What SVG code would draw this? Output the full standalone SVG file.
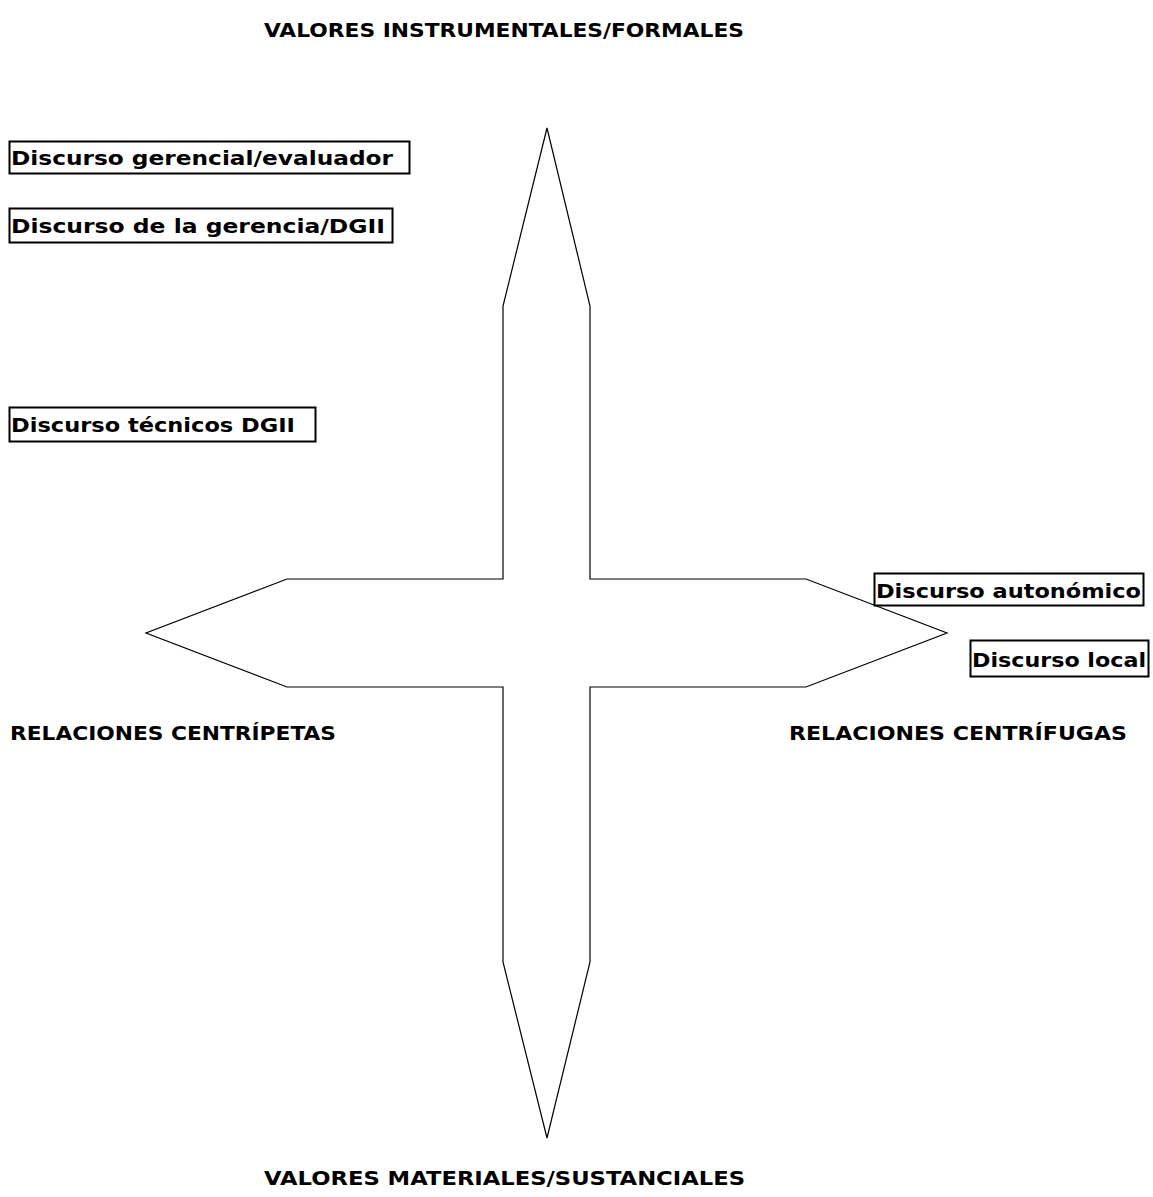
<svg xmlns="http://www.w3.org/2000/svg" width="1153" height="1197" viewBox="0 0 1153 1197">
<style>
.t{font-family:"DejaVu Sans","Liberation Sans",sans-serif;font-weight:bold;fill:#000;}
.h{font-size:20px;}
.d{font-size:20px;}
.box{fill:none;stroke:#000;stroke-width:2;}
.arrow{fill:#fff;stroke:#000;stroke-width:1.2;stroke-linejoin:miter;}
</style>
<rect width="1153" height="1197" fill="#fff"/>
<g id="connectors">
<polygon class="arrow" points="547,128 590,306 590,579 806,579 947,633 806,687 590,687 590,962 547,1138 503,962 503,687 287,687 146,633 287,579 503,579 503,306"/>
</g>
<g id="heading-top"><text class="t h" x="264" y="37" textLength="480" lengthAdjust="spacingAndGlyphs">VALORES INSTRUMENTALES/FORMALES</text></g>
<g id="heading-bottom"><text class="t h" x="264" y="1185" textLength="481" lengthAdjust="spacingAndGlyphs">VALORES MATERIALES/SUSTANCIALES</text></g>
<g id="heading-left"><text class="t h" x="10" y="740" textLength="326" lengthAdjust="spacingAndGlyphs">RELACIONES CENTRÍPETAS</text></g>
<g id="heading-right"><text class="t h" x="789" y="740" textLength="338" lengthAdjust="spacingAndGlyphs">RELACIONES CENTRÍFUGAS</text></g>
<g id="node-gerencial-evaluador">
<rect class="box" x="9.5" y="141.5" width="400" height="32"/>
<text class="t d" x="11" y="165" textLength="382" lengthAdjust="spacingAndGlyphs">Discurso gerencial/evaluador</text>
</g>
<g id="node-gerencia-dgii">
<rect class="box" x="9.5" y="208.5" width="383" height="34"/>
<text class="t d" x="11" y="233" textLength="374" lengthAdjust="spacingAndGlyphs">Discurso de la gerencia/DGII</text>
</g>
<g id="node-tecnicos-dgii">
<rect class="box" x="9.5" y="407.5" width="306" height="34"/>
<text class="t d" x="11" y="432" textLength="284" lengthAdjust="spacingAndGlyphs">Discurso técnicos DGII</text>
</g>
<g id="node-autonomico">
<rect class="box" x="874.5" y="573.5" width="269" height="32"/>
<text class="t d" x="876" y="598" textLength="265" lengthAdjust="spacingAndGlyphs">Discurso autonómico</text>
</g>
<g id="node-local">
<rect class="box" x="970.5" y="640.5" width="178" height="36"/>
<text class="t d" x="972" y="667" textLength="174" lengthAdjust="spacingAndGlyphs">Discurso local</text>
</g>
</svg>
